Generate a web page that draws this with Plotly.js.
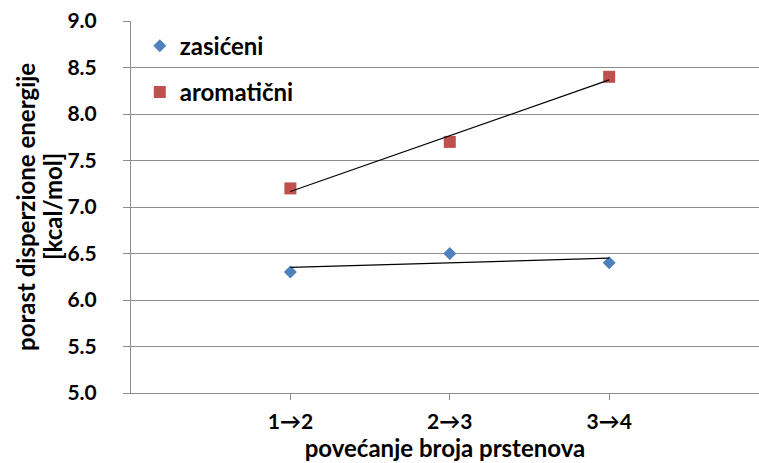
<!DOCTYPE html>
<html>
<head>
<meta charset="utf-8">
<script src="https://cdn.plot.ly/plotly-3.0.1.min.js"></script>
<style>html,body{margin:0;padding:0;background:#fff;overflow:hidden}</style>
</head>
<body>
<div id="chart" style="width:759px;height:463px"></div>
<script>
const categories = ["1\u21922", "2\u21923", "3\u21924"];
const zasiceni = [6.3, 6.5, 6.4];
const aromaticni = [7.2, 7.7, 8.4];
const yTicks = [5.0, 5.5, 6.0, 6.5, 7.0, 7.5, 8.0, 8.5, 9.0];
const seriesNames = ["zasi\u0107eni", "aromati\u010dni"];
const yTitleLines = ["porast disperzione energije", "[kcal/mol]"];
const xTitle = "pove\u0107anje broja prstenova";

function trend(vals) {
  const n = vals.length;
  const xs = vals.map((_, i) => i);
  const mx = xs.reduce((a, b) => a + b, 0) / n;
  const my = vals.reduce((a, b) => a + b, 0) / n;
  let sxy = 0, sxx = 0;
  for (let i = 0; i < n; i++) { sxy += (xs[i] - mx) * (vals[i] - my); sxx += (xs[i] - mx) ** 2; }
  const b = sxy / sxx, a = my - b * mx;
  return [a, a + b * (n - 1)];
}

const FONT = "Lato, 'Open Sans', sans-serif";
const ends = [categories[0], categories[categories.length - 1]];
const data = [
  {x: categories, y: zasiceni, name: seriesNames[0], mode: "markers", legendgroup: "a",
   marker: {symbol: "diamond", size: 10, color: "#4F81BD"}},
  {x: categories, y: aromaticni, name: seriesNames[1], mode: "markers", legendgroup: "b",
   marker: {symbol: "square", size: 12, color: "#C0504D"}},
  {x: ends, y: trend(zasiceni), mode: "lines",
   line: {color: "#000", width: 1.2}, showlegend: false, hoverinfo: "skip"},
  {x: ends, y: trend(aromaticni), mode: "lines",
   line: {color: "#000", width: 1.2}, showlegend: false, hoverinfo: "skip"}
];

const titleFont = {size: 24, family: FONT, weight: "bold", color: "#000"};
const layout = {
  width: 759, height: 463,
  margin: {l: 131, r: 0, t: 21, b: 70},
  paper_bgcolor: "#fff", plot_bgcolor: "#fff",
  font: {family: FONT, color: "#000"},
  showlegend: true,
  legend: {x: 0.014, y: 0.993, xanchor: "left", yanchor: "top", traceorder: "grouped",
           tracegroupgap: 12, font: {size: 24, family: FONT, weight: "bold", color: "#000"},
           bgcolor: "rgba(0,0,0,0)"},
  xaxis: {type: "category", categoryorder: "array", categoryarray: categories,
          range: [-1, 2.94], showgrid: false, zeroline: false,
          showline: true, linecolor: "#8c8c8c", linewidth: 1,
          ticks: "outside", ticklen: 6, tickcolor: "#8c8c8c", ticklabelstandoff: 4,
          tickfont: {size: 21, family: FONT, weight: "bold"},
          title: {text: xTitle, font: titleFont, standoff: 0}},
  yaxis: {range: [5, 9], tickvals: yTicks, ticktext: yTicks.map(v => v.toFixed(1)),
          showgrid: true, gridcolor: "#8c8c8c", gridwidth: 1, zeroline: false,
          showline: true, linecolor: "#8c8c8c", linewidth: 1,
          ticks: "outside", ticklen: 7, tickcolor: "#8c8c8c", ticklabelstandoff: 22,
          tickfont: {size: 21, family: FONT, weight: "bold"}},
  annotations: [
    {text: yTitleLines[0], xref: "paper", yref: "paper", x: 0, y: 0.5, xanchor: "center", yanchor: "middle",
     xshift: -106, textangle: -90, showarrow: false, font: titleFont},
    {text: yTitleLines[1], xref: "paper", yref: "paper", x: 0, y: 0.5, xanchor: "center", yanchor: "middle",
     xshift: -79, textangle: -90, showarrow: false, font: titleFont}
  ]
};

Plotly.newPlot("chart", data, layout, {displayModeBar: false, staticPlot: true});
</script>
</body>
</html>
